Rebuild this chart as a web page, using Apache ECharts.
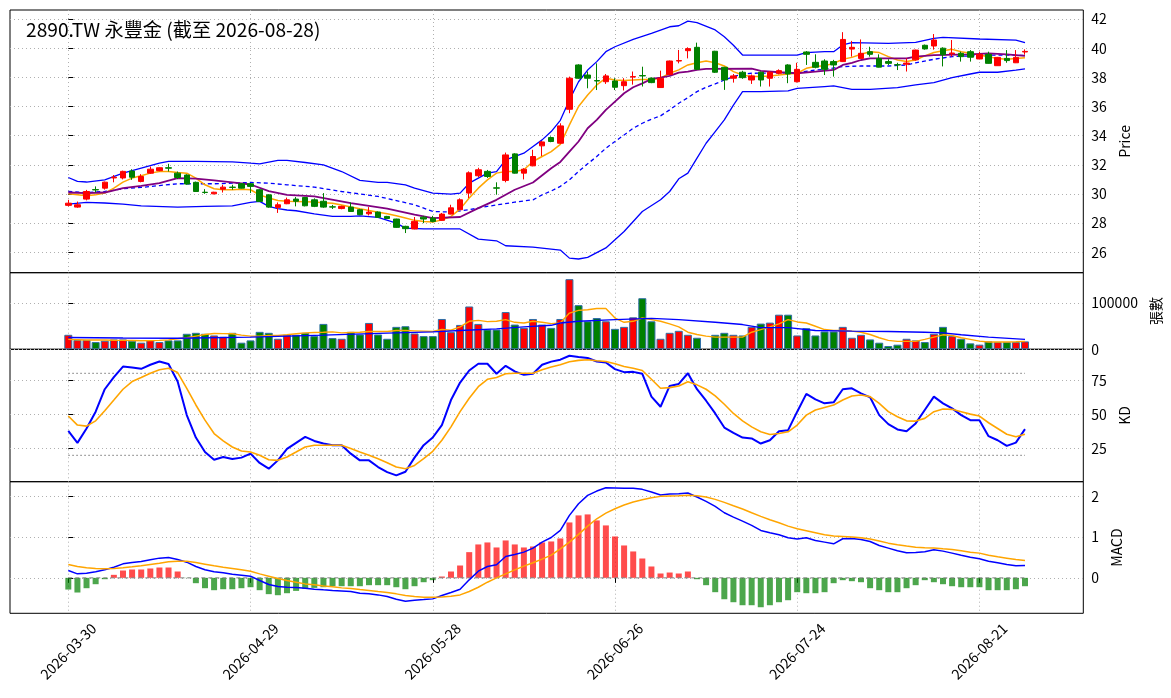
<!DOCTYPE html>
<html lang="zh-Hant">

<head>
    <meta charset="UTF-8">
    <title>2890.TW 永豐金</title>
    <script src="https://cdn.jsdelivr.net/npm/echarts@6.0.0/dist/echarts.min.js"></script>
    <style>
        html, body {
            margin: 0;
            padding: 0;
            background: #fff;
        }

        #main {
            width: 1171px;
            height: 698px;
        }
    </style>
</head>

<body>
    <div id="main"></div>

    <script>
        // trading days (index 70 has no quote)
        const dates = [
            '2026-03-30', '2026-03-31', '2026-04-01', '2026-04-02', '2026-04-07', '2026-04-08', '2026-04-09', '2026-04-10',
            '2026-04-13', '2026-04-14', '2026-04-15', '2026-04-16', '2026-04-17', '2026-04-20', '2026-04-21', '2026-04-22',
            '2026-04-23', '2026-04-24', '2026-04-27', '2026-04-28', '2026-04-29', '2026-04-30', '2026-05-04', '2026-05-05',
            '2026-05-06', '2026-05-07', '2026-05-08', '2026-05-11', '2026-05-12', '2026-05-13', '2026-05-14', '2026-05-15',
            '2026-05-18', '2026-05-19', '2026-05-20', '2026-05-21', '2026-05-22', '2026-05-25', '2026-05-26', '2026-05-27',
            '2026-05-28', '2026-05-29', '2026-06-01', '2026-06-02', '2026-06-03', '2026-06-04', '2026-06-05', '2026-06-08',
            '2026-06-09', '2026-06-10', '2026-06-11', '2026-06-12', '2026-06-15', '2026-06-16', '2026-06-17', '2026-06-18',
            '2026-06-22', '2026-06-23', '2026-06-24', '2026-06-25', '2026-06-26', '2026-06-29', '2026-06-30', '2026-07-01',
            '2026-07-02', '2026-07-03', '2026-07-06', '2026-07-07', '2026-07-08', '2026-07-09', '2026-07-10', '2026-07-13',
            '2026-07-14', '2026-07-15', '2026-07-16', '2026-07-17', '2026-07-20', '2026-07-21', '2026-07-22', '2026-07-23',
            '2026-07-24', '2026-07-27', '2026-07-28', '2026-07-29', '2026-07-30', '2026-07-31', '2026-08-03', '2026-08-04',
            '2026-08-05', '2026-08-06', '2026-08-07', '2026-08-10', '2026-08-11', '2026-08-12', '2026-08-13', '2026-08-14',
            '2026-08-17', '2026-08-18', '2026-08-19', '2026-08-20', '2026-08-21', '2026-08-24', '2026-08-25', '2026-08-26',
            '2026-08-27', '2026-08-28'
        ];
        const xTicks = [0, 20, 40, 60, 80, 100];

        // OHLC, one row per index
        const opens = [
            29.22, 29.10, 29.65, 30.30, 30.40, 31.10, 31.10, 31.57, 30.86, 31.43, 31.60, 31.80, 31.43, 31.30, 30.80, 30.12,
            30.01, 30.33, 30.47, 30.70, 30.70, 30.29, 29.94, 29.08, 29.33, 29.65, 29.76, 29.60, 29.50, 29.12, 29.00, 29.10,
            28.92, 28.64, 28.76, 28.46, 28.28, 27.78, 27.60, 28.41, 28.35, 28.19, 28.62, 28.92, 30.06, 31.25, 31.55, 30.42,
            30.93, 32.75, 31.43, 31.93, 33.30, 33.87, 33.48, 35.81, 38.85, 38.16, 37.78, 37.70, 37.75, 37.43, 38.02, 38.12,
            37.94, 37.30, 38.20, 39.12, 39.83, 40.06, null, 39.79, 38.69, 37.94, 38.35, 37.82, 38.35, 37.94, 38.28, 38.85,
            37.70, 39.74, 39.03, 39.12, 39.08, 39.08, 39.94, 39.30, 39.76, 39.30, 39.08, 38.87, 38.90, 39.20, 40.20, 40.15,
            40.00, 39.62, 39.65, 39.76, 39.26, 39.58, 38.80, 39.30, 39.00, 39.74
        ];
        const closes = [
            29.37, 29.26, 30.17, 30.28, 30.81, 31.15, 31.55, 31.15, 31.20, 31.70, 31.80, 31.77, 31.13, 30.68, 30.17, 30.10,
            30.12, 30.47, 30.45, 30.40, 30.52, 29.49, 29.10, 29.26, 29.60, 29.50, 29.19, 29.15, 29.10, 29.10, 29.15, 28.80,
            28.58, 28.76, 28.40, 28.32, 27.71, 27.62, 28.12, 28.28, 28.12, 28.62, 29.05, 29.60, 31.45, 31.66, 31.20, 30.40,
            32.68, 31.43, 31.70, 32.57, 33.57, 33.60, 34.67, 37.94, 37.94, 37.94, 37.75, 38.10, 37.32, 37.70, 38.05, 38.10,
            37.64, 37.94, 39.12, 39.15, 39.97, 38.55, null, 38.35, 37.82, 38.10, 37.98, 38.10, 37.82, 38.35, 38.46, 38.23,
            38.55, 39.58, 38.69, 38.55, 38.85, 40.60, 40.06, 39.65, 39.58, 38.70, 38.96, 38.85, 38.98, 39.87, 39.95, 40.56,
            39.55, 39.67, 39.42, 39.38, 39.58, 38.96, 39.37, 39.15, 39.37, 39.78
        ];
        const lows = [
            29.15, 29.05, 29.56, 30.10, 30.30, 30.80, 31.00, 30.97, 30.80, 31.38, 31.56, 31.54, 31.02, 30.63, 30.15, 30.01,
            29.98, 30.10, 30.29, 30.38, 30.06, 29.45, 29.05, 28.70, 29.30, 29.15, 29.15, 29.10, 29.05, 28.97, 28.95, 28.78,
            28.55, 28.53, 28.36, 28.28, 27.68, 27.32, 27.58, 28.00, 28.05, 28.15, 28.60, 28.90, 29.72, 31.15, 31.10, 29.95,
            30.80, 31.40, 31.00, 31.90, 32.60, 33.55, 33.44, 35.54, 37.90, 37.25, 37.13, 37.55, 37.13, 37.10, 37.50, 37.37,
            37.60, 37.28, 38.15, 38.96, 39.30, 38.50, null, 38.30, 37.14, 37.64, 37.90, 37.55, 37.37, 37.37, 38.20, 37.60,
            37.65, 38.85, 38.62, 38.16, 38.05, 39.05, 39.42, 39.28, 39.42, 38.68, 38.85, 38.50, 38.40, 39.15, 39.90, 39.90,
            38.75, 39.42, 39.08, 39.08, 39.24, 38.94, 38.78, 39.00, 38.98, 39.55
        ];
        const highs = [
            29.60, 29.48, 30.28, 30.52, 30.85, 31.30, 31.60, 31.70, 31.36, 31.88, 31.83, 32.07, 31.54, 31.35, 30.85, 30.33,
            30.15, 30.63, 30.63, 30.74, 30.75, 30.33, 29.98, 29.42, 29.75, 29.79, 29.80, 29.70, 30.06, 29.25, 29.20, 29.42,
            28.98, 29.10, 28.80, 28.50, 28.30, 27.82, 28.42, 28.50, 28.50, 28.70, 29.26, 29.70, 31.55, 31.80, 31.65, 30.80,
            32.84, 32.80, 31.77, 33.03, 33.64, 33.95, 34.85, 38.05, 38.90, 38.40, 38.96, 38.23, 37.94, 37.94, 38.40, 38.73,
            38.00, 38.46, 39.15, 39.88, 40.06, 40.38, null, 39.82, 38.72, 38.23, 38.45, 38.20, 38.40, 38.42, 38.55, 38.90,
            39.00, 39.80, 39.58, 39.24, 39.20, 41.10, 40.50, 40.60, 40.10, 39.58, 39.24, 39.00, 39.30, 39.90, 40.25, 40.97,
            40.06, 40.56, 39.76, 39.87, 39.76, 39.76, 39.40, 39.87, 39.87, 39.92
        ];

        // moving averages and bollinger band, [index, value]
        const ma5 = [
            30.01, 29.95, 29.88, 29.95, 30.06, 30.40, 30.81, 31.09, 31.25, 31.43, 31.54, 31.54, 31.48, 31.43, 31.09, 30.63,
            30.36, 30.29, 30.29, 30.33, 30.29, 29.94, 29.72, 29.55, 29.50, 29.49, 29.47, 29.45, 29.40, 29.37, 29.25, 29.10,
            28.98, 28.87, 28.75, 28.64, 28.50, 28.35, 28.19, 28.12, 28.07, 28.23, 28.46, 28.96, 29.72, 30.40, 30.97, 31.43,
            31.54, 31.54, 31.66, 32.23, 32.57, 32.91, 33.40, 34.74, 36.00, 36.79, 37.48, 37.94, 37.82, 37.78, 37.82, 37.86,
            37.86, 37.94, 38.28, 38.51, 38.85, 39.00, 39.12, 39.00, 38.78, 38.39, 38.16, 38.05, 38.05, 38.10, 38.16, 38.23,
            38.28, 38.62, 38.74, 38.80, 38.96, 39.24, 39.37, 39.58, 39.76, 39.70, 39.42, 39.19, 39.08, 39.19, 39.47, 39.70,
            39.83, 39.92, 39.76, 39.65, 39.53, 39.42, 39.30, 39.24, 39.30, 39.35
        ];
        const ma10 = [
            [0, 30.10], [2, 30.06], [4, 30.10], [6, 30.40], [8, 30.56], [10, 30.75], [12, 31.09], [14, 31.05], [16, 30.93],
            [18, 30.80], [20, 30.65], [22, 30.20], [24, 29.94], [27, 29.83], [31, 29.37], [35, 28.99], [38, 28.58], [40, 28.35],
            [43, 28.42], [45, 29.03], [47, 29.60], [49, 30.29], [51, 30.79], [53, 31.77], [54, 32.20], [55, 32.91], [56, 33.60],
            [57, 34.51], [58, 35.08], [59, 35.77], [60, 36.34], [61, 36.91], [62, 37.32], [63, 37.59], [64, 37.89], [65, 37.98],
            [66, 38.10], [67, 38.32], [68, 38.39], [69, 38.51], [70, 38.58], [75, 38.60], [76, 38.44], [78, 38.35], [80, 38.28],
            [82, 38.39], [84, 38.51], [85, 38.85], [86, 39.00], [87, 39.19], [88, 39.30], [92, 39.30], [93, 39.42], [95, 39.53],
            [99, 39.58], [101, 39.65], [103, 39.58], [105, 39.47]
        ];
        const bbMid = [
            [0, 30.17], [2, 30.10], [4, 30.17], [6, 30.36], [8, 30.45], [10, 30.58], [12, 30.70], [16, 30.70], [18, 30.74],
            [20, 30.79], [22, 30.74], [24, 30.63], [27, 30.47], [30, 30.17], [34, 29.83], [38, 29.26], [40, 28.80], [42, 28.76],
            [44, 28.92], [46, 29.15], [49, 29.44], [51, 29.60], [52, 29.94], [53, 30.20], [54, 30.52], [55, 30.97], [56, 31.54],
            [57, 32.07], [58, 32.57], [59, 33.14], [60, 33.60], [61, 34.05], [62, 34.51], [63, 34.85], [64, 35.13], [65, 35.36],
            [66, 35.77], [67, 36.22], [68, 36.61], [69, 37.02], [70, 37.32], [71, 37.55], [72, 37.82], [73, 38.05], [74, 38.23],
            [75, 38.28], [80, 38.32], [82, 38.50], [83, 38.55], [85, 38.74], [87, 38.78], [90, 38.78], [92, 38.85], [93, 39.00],
            [95, 39.24], [97, 39.42], [99, 39.47], [101, 39.53], [103, 39.53], [105, 39.50]
        ];
        const bbUpper = [
            [0, 31.13], [1, 30.86], [2, 30.82], [4, 30.97], [6, 31.43], [8, 31.77], [10, 32.11], [11, 32.23], [14, 32.23],
            [18, 32.20], [20, 32.11], [21, 32.07], [23, 32.30], [24, 32.30], [26, 32.16], [28, 32.00], [30, 31.54], [32, 30.93],
            [34, 30.79], [35, 30.79], [37, 30.63], [38, 30.40], [40, 30.06], [42, 29.99], [43, 30.06], [44, 30.74], [46, 31.43],
            [47, 31.54], [48, 32.34], [50, 32.80], [51, 33.26], [52, 33.71], [53, 34.28], [54, 35.05], [55, 36.45], [56, 37.70],
            [57, 38.50], [58, 39.08], [59, 39.76], [60, 40.10], [62, 40.60], [64, 41.02], [66, 41.47], [67, 41.54], [68, 41.86],
            [69, 41.75], [71, 41.25], [72, 40.79], [73, 40.20], [74, 39.53], [76, 39.53], [80, 39.53], [81, 39.70], [83, 39.76],
            [84, 39.76], [85, 40.22], [86, 40.38], [90, 40.33], [93, 40.40], [95, 40.68], [96, 40.74], [100, 40.63], [104, 40.56],
            [105, 40.38]
        ];
        const bbLower = [
            [0, 29.31], [2, 29.42], [4, 29.38], [6, 29.31], [8, 29.19], [12, 29.10], [15, 29.15], [18, 29.19], [20, 29.42],
            [21, 29.49], [22, 29.15], [23, 28.99], [24, 28.90], [25, 28.85], [27, 28.64], [29, 28.46], [31, 28.46], [32, 28.50],
            [34, 28.40], [36, 28.00], [37, 27.66], [39, 27.60], [43, 27.60], [45, 26.90], [47, 26.79], [48, 26.45], [51, 26.36],
            [54, 26.15], [55, 25.60], [56, 25.54], [57, 25.65], [59, 26.30], [61, 27.43], [63, 28.80], [65, 29.60], [66, 30.17],
            [67, 31.04], [68, 31.43], [69, 32.46], [70, 33.48], [71, 34.28], [72, 35.08], [73, 36.10], [74, 37.02], [76, 37.02],
            [79, 37.07], [80, 37.25], [83, 37.37], [84, 37.41], [86, 37.18], [88, 37.18], [91, 37.30], [93, 37.48], [95, 37.64],
            [97, 37.98], [99, 38.23], [100, 38.35], [102, 38.35], [104, 38.50], [105, 38.58]
        ];

        // volume (張) and its averages
        const volume = [
            31400, 20000, 20000, 15700, 18600, 21400, 21400, 18600, 14300, 20000, 15700, 19300, 19300, 33600, 35700, 33600,
            30000, 27100, 35700, 14300, 19300, 37800, 35700, 22800, 31400, 31400, 35700, 28600, 55000, 24300, 22800, 37800,
            32100, 57100, 32100, 22800, 48600, 50000, 34300, 28600, 28600, 65700, 37100, 52800, 92800, 55000, 42800, 42800,
            80700, 53600, 46400, 65700, 53600, 46400, 65700, 152000, 95700, 60700, 67800, 60700, 44300, 48600, 69300, 110700,
            60700, 22800, 35700, 40000, 31400, 25000, null, 31400, 35700, 31400, 30000, 48600, 55700, 57800, 75000, 75000,
            30000, 45700, 30000, 38600, 38600, 48600, 25000, 31400, 21400, 14300, 7100, 10000, 22800, 19300, 15700, 33600,
            48600, 28600, 22800, 12900, 10000, 17100, 15700, 15700, 15700, 17100
        ];
        const volMa5 = [
            21400, 20700, 20000, 20000, 20000, 19600, 19300, 19000, 18600, 18900, 19300, 20500, 22800, 25000, 28600, 32000,
            34300, 34000, 33600, 30700, 28600, 28600, 30000, 30000, 31400, 33600, 35700, 36500, 37000, 37800, 35700, 36500,
            37000, 38600, 38600, 38600, 40700, 40700, 40000, 39300, 38600, 42800, 41400, 48600, 60700, 62800, 60000, 60700,
            64300, 58500, 57000, 60700, 58500, 55700, 57000, 78500, 84300, 85700, 88500, 88500, 67800, 58500, 60700, 67800,
            64300, 60700, 55000, 48600, 37000, 32000, 28600, 26400, 26400, 26400, 26400, 37000, 42800, 48600, 55000, 64300,
            59300, 57000, 50000, 42800, 40700, 40700, 39300, 37000, 32000, 25000, 19300, 17100, 17100, 17100, 21400, 26400,
            31400, 30000, 25000, 21400, 17800, 15700, 15900, 15900, 16400, 17100
        ];
        const volMa20 = [
            [0, 25700], [6, 24500], [12, 24000], [20, 26400], [28, 30700], [35, 35000], [40, 37800], [43, 40700], [47, 44300],
            [50, 48600], [53, 52000], [54, 57000], [56, 60700], [60, 64300], [64, 67000], [67, 64300], [71, 58500], [74, 53600],
            [76, 47000], [79, 47000], [82, 40700], [86, 39300], [90, 38600], [94, 37000], [96, 35700], [98, 31400], [101, 26400],
            [105, 21400]
        ];

        // KD
        const kLine = [
            38.0, 29.2, 39.7, 52.0, 68.4, 77.2, 85.0, 84.3, 83.3, 86.3, 88.7, 86.8, 74.0, 49.5, 33.1, 22.5,
            16.9, 18.9, 17.4, 18.4, 21.3, 14.5, 10.3, 16.4, 24.8, 29.2, 33.6, 30.6, 28.7, 27.5, 27.5, 21.3,
            16.4, 16.4, 11.5, 7.8, 5.4, 8.1, 18.4, 27.5, 33.1, 42.2, 60.5, 73.3, 82.1, 87.0, 87.0, 79.7,
            85.5, 81.4, 78.9, 79.7, 86.3, 88.6, 90.0, 92.9, 91.9, 91.2, 88.7, 88.0, 83.1, 80.9, 81.1, 79.7,
            63.0, 55.6, 70.8, 72.3, 80.1, 68.4, 60.0, 50.7, 40.4, 36.5, 33.1, 32.4, 28.7, 31.1, 37.7, 38.5,
            52.0, 65.0, 61.0, 58.1, 58.8, 68.4, 69.1, 65.4, 62.5, 49.5, 42.9, 39.0, 37.7, 43.4, 53.2, 63.0,
            58.1, 54.4, 49.5, 45.8, 45.8, 34.1, 31.1, 27.0, 29.4, 39.2
        ];
        const dLine = [
            48.8, 42.2, 41.4, 45.3, 52.7, 60.5, 68.4, 74.0, 77.0, 80.1, 82.6, 83.8, 80.6, 69.1, 56.9, 45.8,
            36.0, 30.6, 26.2, 23.3, 22.5, 20.1, 16.9, 16.4, 18.9, 22.5, 26.2, 27.5, 27.5, 27.5, 27.5, 25.0,
            22.5, 20.1, 17.6, 14.7, 11.5, 10.3, 12.7, 17.6, 23.0, 31.1, 40.9, 52.0, 61.8, 70.3, 75.7, 77.0,
            79.7, 80.1, 80.1, 80.1, 82.6, 84.6, 86.3, 88.5, 89.5, 90.0, 89.2, 88.7, 87.0, 85.0, 83.8, 82.1,
            75.7, 69.1, 69.6, 70.8, 73.8, 71.6, 68.4, 63.5, 57.4, 50.7, 45.3, 40.9, 37.3, 35.3, 36.0, 37.3,
            42.2, 49.5, 53.2, 55.1, 56.9, 60.5, 63.5, 64.2, 63.0, 58.1, 52.0, 48.3, 45.3, 45.1, 47.1, 52.0,
            53.9, 53.7, 52.0, 50.2, 48.8, 43.9, 39.7, 35.5, 33.6, 35.5
        ];

        // MACD
        const dif = [
            0.180, 0.098, 0.115, 0.148, 0.197, 0.262, 0.344, 0.377, 0.400, 0.443, 0.484, 0.500, 0.450, 0.385, 0.279, 0.197,
            0.148, 0.123, 0.090, 0.066, 0.041, -0.066, -0.164, -0.213, -0.230, -0.238, -0.254, -0.279, -0.295, -0.310, -0.320, -0.336,
            -0.377, -0.393, -0.418, -0.459, -0.525, -0.574, -0.549, -0.533, -0.516, -0.434, -0.360, -0.279, -0.049, 0.164, 0.279, 0.320,
            0.525, 0.574, 0.631, 0.730, 0.877, 0.990, 1.164, 1.533, 1.820, 2.025, 2.130, 2.213, 2.205, 2.197, 2.197, 2.172,
            2.107, 2.033, 2.057, 2.066, 2.082, 1.984, 1.877, 1.754, 1.598, 1.490, 1.393, 1.287, 1.164, 1.107, 1.057, 0.984,
            0.951, 0.984, 0.918, 0.877, 0.836, 0.959, 0.967, 0.943, 0.893, 0.795, 0.730, 0.664, 0.615, 0.623, 0.640, 0.689,
            0.656, 0.607, 0.557, 0.508, 0.467, 0.410, 0.369, 0.328, 0.295, 0.303
        ];
        const dea = [
            0.328, 0.279, 0.246, 0.230, 0.221, 0.230, 0.246, 0.270, 0.295, 0.328, 0.360, 0.393, 0.410, 0.410, 0.377, 0.336,
            0.295, 0.262, 0.230, 0.197, 0.164, 0.098, 0.041, -0.016, -0.066, -0.107, -0.148, -0.172, -0.197, -0.221, -0.246, -0.262,
            -0.287, -0.310, -0.336, -0.360, -0.393, -0.434, -0.459, -0.475, -0.475, -0.467, -0.450, -0.418, -0.336, -0.230, -0.107, 0.000,
            0.098, 0.197, 0.287, 0.369, 0.459, 0.557, 0.713, 0.877, 1.066, 1.270, 1.450, 1.590, 1.697, 1.787, 1.861, 1.918,
            1.967, 2.000, 2.008, 2.016, 2.025, 2.016, 1.984, 1.926, 1.852, 1.770, 1.689, 1.598, 1.508, 1.426, 1.352, 1.270,
            1.205, 1.156, 1.107, 1.057, 1.025, 1.016, 1.000, 0.984, 0.951, 0.902, 0.852, 0.811, 0.779, 0.754, 0.738, 0.730,
            0.713, 0.697, 0.664, 0.631, 0.607, 0.557, 0.516, 0.484, 0.451, 0.426
        ];
        const hist = [
            -0.287, -0.360, -0.254, -0.156, -0.033, 0.074, 0.180, 0.205, 0.205, 0.230, 0.254, 0.254, 0.156, -0.005, -0.131, -0.254,
            -0.303, -0.279, -0.279, -0.254, -0.230, -0.303, -0.400, -0.426, -0.377, -0.320, -0.270, -0.246, -0.230, -0.205, -0.205, -0.205,
            -0.205, -0.180, -0.180, -0.180, -0.230, -0.279, -0.205, -0.107, -0.057, 0.033, 0.156, 0.303, 0.631, 0.820, 0.869, 0.746,
            0.918, 0.820, 0.746, 0.770, 0.869, 0.893, 0.967, 1.360, 1.533, 1.557, 1.410, 1.287, 1.016, 0.795, 0.648, 0.475,
            0.279, 0.107, 0.131, 0.107, 0.156, -0.033, -0.180, -0.352, -0.525, -0.598, -0.672, -0.672, -0.721, -0.672, -0.598, -0.549,
            -0.352, -0.377, -0.377, -0.352, -0.131, -0.057, -0.082, -0.107, -0.254, -0.303, -0.352, -0.352, -0.254, -0.180, -0.057, -0.107,
            -0.156, -0.205, -0.230, -0.230, -0.230, -0.303, -0.303, -0.303, -0.279, -0.205
        ];

        const UP = '#ff0000';
        const DOWN = '#008000';
        const FONT = '"Noto Sans CJK TC", "Noto Sans", sans-serif';

        // helpers to pair values with their index on the x axis
        const withIndex = arr => arr.map((v, i) => [i, v]);
        const candleData = [];
        const volumeData = [];
        for (let i = 0; i < dates.length; i++) {
            if (opens[i] === null) continue;
            candleData.push([i, opens[i], closes[i], lows[i], highs[i]]);
            volumeData.push({
                value: [i, volume[i]],
                itemStyle: { color: closes[i] >= opens[i] ? UP : DOWN }
            });
        }
        const histData = hist.map((v, i) => ({
            value: [i, v],
            itemStyle: { color: v >= 0 ? 'rgba(255,0,0,0.7)' : 'rgba(0,128,0,0.7)' }
        }));

        // panel rectangles (pixels)
        const panels = [
            { top: 10, height: 262.7 },
            { top: 272.7, height: 76.6 },
            { top: 349.3, height: 132.4 },
            { top: 481.7, height: 131.6 }
        ];
        const gridLine = { show: true, lineStyle: { color: '#b0b0b0', type: [1, 3], width: 1 } };

        function xAxisFor(idx, last) {
            return {
                type: 'value',
                gridIndex: idx,
                min: -6.4,
                max: 111.4,
                axisLine: { show: false },
                axisTick: { show: last, customValues: xTicks, length: 5, lineStyle: { color: '#000' } },
                axisLabel: {
                    show: last,
                    customValues: xTicks,
                    rotate: 45,
                    // centred under the tick, like the reference
                    align: 'center',
                    verticalAlign: 'middle',
                    margin: 38,
                    fontSize: 14,
                    color: '#000',
                    fontFamily: FONT,
                    formatter: v => dates[v] || ''
                },
                splitLine: gridLine
            };
        }

        function yAxisFor(idx, min, max, ticks, name, gap) {
            return {
                type: 'value',
                gridIndex: idx,
                position: 'right',
                min: min,
                max: max,
                name: name,
                nameLocation: 'middle',
                nameRotate: 90,
                nameGap: gap,
                nameTextStyle: { fontSize: 14, color: '#000', fontFamily: FONT },
                axisLine: { show: false },
                axisTick: { show: true, customValues: ticks, length: 5, lineStyle: { color: '#000' } },
                axisLabel: {
                    customValues: ticks,
                    margin: 8,
                    fontSize: 14,
                    color: '#000',
                    fontFamily: FONT,
                    formatter: v => String(v)
                },
                splitLine: gridLine
            };
        }

        function line(name, data, color, width, xi, dash) {
            return {
                name: name,
                type: 'line',
                xAxisIndex: xi,
                yAxisIndex: xi,
                data: data,
                showSymbol: false,
                symbol: 'none',
                smooth: false,
                connectNulls: true,
                lineStyle: { color: color, width: width, type: dash || 'solid' },
                z: 3
            };
        }

        const myChart = echarts.init(document.getElementById('main'), null, { renderer: 'canvas' });

        const option = {
            animation: false,
            backgroundColor: '#fff',
            textStyle: { fontFamily: FONT },
            graphic: [{
                type: 'text',
                left: 26,
                top: 20,
                z: 100,
                style: {
                    text: '2890.TW 永豐金 (截至 2026-08-28)',
                    fontSize: 19.2,
                    fontFamily: FONT,
                    fill: '#000'
                }
            }],
            grid: panels.map(p => ({
                left: 10,
                right: 87.7,
                top: p.top,
                height: p.height,
                show: true,
                borderColor: '#000',
                borderWidth: 1,
                backgroundColor: 'transparent'
            })),
            xAxis: [xAxisFor(0, false), xAxisFor(1, false), xAxisFor(2, false), xAxisFor(3, true)],
            yAxis: [
                yAxisFor(0, 24.6, 42.62, [26, 28, 30, 32, 34, 36, 38, 40, 42], 'Price', 28),
                yAxisFor(1, 0, 166000, [0, 100000], '張數', 58),
                yAxisFor(2, 0.8, 97.6, [25, 50, 75], 'KD', 28),
                yAxisFor(3, -0.87, 2.36, [0, 1, 2], 'MACD', 21)
            ],
            series: [
                {
                    name: 'K',
                    type: 'candlestick',
                    xAxisIndex: 0,
                    yAxisIndex: 0,
                    data: candleData,
                    barWidth: 6,
                    itemStyle: {
                        color: UP,
                        color0: DOWN,
                        borderColor: UP,
                        borderColor0: DOWN,
                        borderWidth: 1
                    },
                    z: 4
                },
                line('BB上軌', bbUpper, '#0000ff', 1.3, 0),
                line('BB下軌', bbLower, '#0000ff', 1.3, 0),
                line('MA20', bbMid, '#0000ff', 1.3, 0, [4, 3]),
                line('MA5', withIndex(ma5), '#ffa500', 1.5, 0),
                line('MA10', ma10, '#800080', 1.8, 0),

                {
                    name: '成交量',
                    type: 'bar',
                    xAxisIndex: 1,
                    yAxisIndex: 1,
                    data: volumeData,
                    barWidth: 8,
                    itemStyle: { borderColor: '#2f6fa6', borderWidth: 1 },
                    z: 2
                },
                line('VMA5', withIndex(volMa5), '#ffa500', 1.4, 1),
                line('VMA20', volMa20, '#0000ff', 1.4, 1),

                line('80', [[0, 80], [105, 80]], '#909090', 1.2, 2, [1.5, 2.5]),
                line('20', [[0, 20], [105, 20]], '#909090', 1.2, 2, [1.5, 2.5]),
                line('K值', withIndex(kLine), '#0000ff', 2, 2),
                line('D值', withIndex(dLine), '#ffa500', 1.6, 2),

                {
                    name: 'OSC',
                    type: 'bar',
                    xAxisIndex: 3,
                    yAxisIndex: 3,
                    data: histData,
                    barWidth: 6,
                    z: 2
                },
                line('0', [[0, 0], [105, 0]], '#808080', 1, 3, [4, 3]),
                line('DIF', withIndex(dif), '#0000ff', 1.5, 3),
                line('DEA', withIndex(dea), '#ffa500', 1.5, 3)
            ]
        };

        myChart.setOption(option);
    </script>
</body>

</html>
